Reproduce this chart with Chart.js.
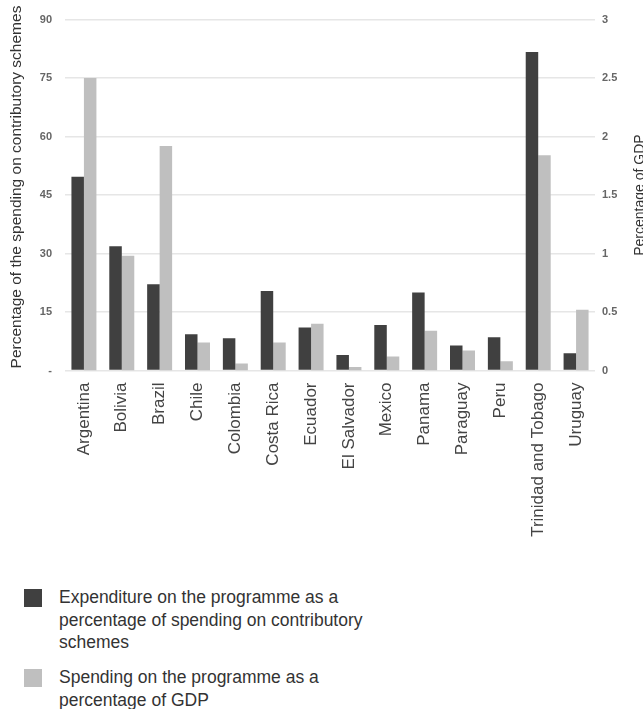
<!DOCTYPE html>
<html>
<head>
<meta charset="utf-8">
<script src="https://cdn.jsdelivr.net/npm/chart.js@4/dist/chart.umd.min.js"></script>
<style>
  body { margin: 0; background: #fff; font-family: "Liberation Sans", Arial, sans-serif; }
  #wrap { position: relative; width: 643px; height: 709px; overflow: hidden; }
  #legend { position: absolute; left: 24px; top: 586px; width: 345px; color: #333; font-size: 17.5px; line-height: 22.5px; }
  .item { display: flex; align-items: flex-start; margin-bottom: 12.5px; }
  .box { width: 18px; height: 18px; flex: none; margin-top: 3px; margin-right: 17px; }
</style>
</head>
<body>
<div id="wrap">
  <canvas id="chart" width="643" height="580"></canvas>
  <div id="legend"></div>
</div>
<script>
document.addEventListener("DOMContentLoaded", function () {
    const countries = ["Argentina", "Bolivia", "Brazil", "Chile", "Colombia", "Costa Rica", "Ecuador",
        "El Salvador", "Mexico", "Panama", "Paraguay", "Peru", "Trinidad and Tobago", "Uruguay"];

    // % of spending on contributory schemes (left axis)
    const shareContributory = [49.7, 31.9, 22.1, 9.3, 8.3, 20.4, 11.0, 4.0, 11.7, 20.0, 6.4, 8.5, 81.7, 4.4];
    // % of GDP (right axis)
    const shareGdp = [2.5, 0.98, 1.92, 0.24, 0.06, 0.24, 0.40, 0.03, 0.12, 0.34, 0.17, 0.08, 1.84, 0.52];

    const seriesNames = [
        "Expenditure on the programme as a percentage of spending on contributory schemes",
        "Spending on the programme as a percentage of GDP"
    ];
    const leftTitle = "Percentage of the spending on contributory schemes";
    const rightTitle = "Percentage of GDP";

    const darkColor = "#404040";
    const lightColor = "#bfbfbf";

    // both axis titles read bottom-to-top; the right one runs off the edge of the picture
    function drawVertical(ctx, text, x, y, size) {
        ctx.save();
        ctx.translate(x, y);
        ctx.rotate(-Math.PI / 2);
        ctx.font = size + "px 'Liberation Sans', Arial, sans-serif";
        ctx.fillStyle = "#333";
        ctx.textAlign = "center";
        ctx.textBaseline = "alphabetic";
        ctx.fillText(text, 0, 0);
        ctx.restore();
    }

    const axisTitlesPlugin = {
        id: "axisTitles",
        afterDraw(chart) {
            const area = chart.chartArea;
            drawVertical(chart.ctx, leftTitle, 21, 187, 15.5);
            drawVertical(chart.ctx, rightTitle, 644, (area.top + area.bottom) / 2, 14);
        }
    };

    const tickFont = { family: "'Liberation Sans', Arial, sans-serif", size: 11, weight: "bold" };

    new Chart(document.getElementById("chart").getContext("2d"), {
        type: "bar",
        data: {
            labels: countries,
            datasets: [{
                label: seriesNames[0],
                data: shareContributory,
                backgroundColor: darkColor,
                yAxisID: "y",
            }, {
                label: seriesNames[1],
                data: shareGdp,
                backgroundColor: lightColor,
                yAxisID: "y1",
            }],
        },
        options: {
            responsive: false,
            animation: false,
            layout: { padding: { top: 19, left: 0, right: 0, bottom: 0 } },
            datasets: { bar: { categoryPercentage: 0.66, barPercentage: 1.0 } },
            plugins: { legend: { display: false }, tooltip: { enabled: false } },
            scales: {
                x: {
                    grid: { display: false, drawTicks: false },
                    border: { display: false },
                    ticks: {
                        minRotation: 90, maxRotation: 90, autoSkip: false, padding: 12,
                        color: "#444", font: { family: "'Liberation Sans', Arial, sans-serif", size: 17 }
                    },
                    afterFit: s => { s.height = 580 - 19 - 351.5; }
                },
                y: {
                    position: "left",
                    min: 0, max: 90,
                    grid: { color: "#e6e6e6", lineWidth: 1.5, drawTicks: false },
                    border: { display: false },
                    ticks: {
                        stepSize: 15, padding: 13, color: "#666", font: tickFont,
                        callback: v => v === 0 ? "-" : v
                    },
                    afterFit: s => { s.width = 65; }
                },
                y1: {
                    position: "right",
                    min: 0, max: 3,
                    grid: { display: false, drawTicks: false },
                    border: { display: false },
                    ticks: {
                        stepSize: 0.5, padding: 7, color: "#666", font: tickFont,
                        callback: v => String(+v.toFixed(1))
                    },
                    afterFit: s => { s.width = 48; }
                }
            }
        },
        plugins: [axisTitlesPlugin]
    });

    // legend below the chart
    const legend = document.getElementById("legend");
    [darkColor, lightColor].forEach((c, i) => {
        const row = document.createElement("div");
        row.className = "item";
        row.innerHTML = `<span class="box" style="background:${c}"></span><span>${seriesNames[i]}</span>`;
        legend.appendChild(row);
    });
});
</script>
</body>
</html>
